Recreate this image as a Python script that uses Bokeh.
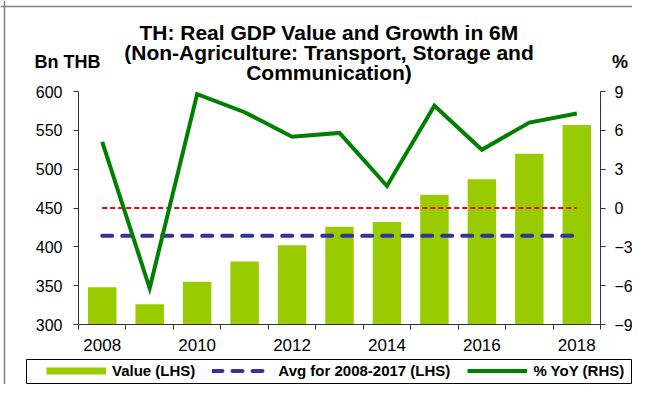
from bokeh.plotting import figure
from bokeh.models import (Range1d, LinearAxis, FixedTicker, Label, Legend, LegendItem,
                          BoxAnnotation, Span, ColumnDataSource)
from bokeh.embed import file_html
from bokeh.resources import INLINE

# ---- data ----
years = [2008, 2009, 2010, 2011, 2012, 2013, 2014, 2015, 2016, 2017, 2018]
values = [348, 326, 355, 381, 402, 426, 432, 467, 487, 520, 557]
yoy = [5.1, -6.2, 8.8, 7.4, 5.5, 5.8, 1.7, 7.9, 4.5, 6.6, 7.3]
avg_value = sum(values[:10]) / 10  # average for 2008-2017
zero_line = [0] * len(years)
left_ticks = [300, 350, 400, 450, 500, 550, 600]
right_ticks = [-9, -6, -3, 0, 3, 6, 9]
x_label_years = [2008, 2010, 2012, 2014, 2016, 2018]

title_lines = ["TH: Real GDP Value and Growth in 6M",
               "(Non-Agriculture: Transport, Storage and",
               "Communication)"]
legend_labels = ["Value (LHS)", "Avg for 2008-2017 (LHS)", "% YoY (RHS)"]

# ---- layout (pixels) ----
W, H = 632, 384
PL, PR, PT, PB = 78, 600, 91, 324   # plot-area edges on the canvas

FONT = "Liberation Sans"
BAR_C = "#99CC00"
LINE_C = "#008000"
AVG_C = "#333399"
ZERO_C = "#FF0000"
AX_C = "#333333"

x0, x1 = years[0] - 0.5, years[-1] + 0.5
ppx = (PR - PL) / (x1 - x0)
y0, y1 = left_ticks[0], left_ticks[-1]
ppy = (PB - PT) / (y1 - y0)
r0, r1 = right_ticks[0], right_ticks[-1]
ppr = (PB - PT) / (r1 - r0)

p = figure(width=W, height=H,
           x_range=Range1d(x0 - PL / ppx, x1 + (W - PR) / ppx),
           y_range=Range1d(y0 - (H - PB) / ppy, y1 + PT / ppy),
           x_axis_location=None, y_axis_location=None,
           output_backend="svg", toolbar_location=None,
           min_border_left=0, min_border_right=0,
           min_border_top=0, min_border_bottom=0)
p.extra_y_ranges = {"pct": Range1d(r0 - (H - PB) / ppr, r1 + PT / ppr)}
p.xgrid.visible = False
p.ygrid.visible = False
p.outline_line_color = None
p.background_fill_color = "white"
p.border_fill_color = "white"

src = ColumnDataSource(dict(x=years, v=values, g=yoy,
                            avg=[avg_value] * len(years), z=zero_line))

bars = p.vbar(x="x", top="v", bottom=y0, width=0.6, source=src,
              fill_color=BAR_C, line_color=None)
avg_r = p.line(x="x", y="avg", source=src, line_color=AVG_C, line_width=4,
               line_dash="10 10", line_cap="round")
zero_r = p.line(x="x", y="z", source=src, y_range_name="pct",
                line_color=ZERO_C, line_width=2, line_dash="5 3")
yoy_r = p.line(x="x", y="g", source=src, y_range_name="pct",
               line_color=LINE_C, line_width=4, line_join="miter")

# legend swatch for the bars (a single point: draws nothing in the plot itself)
proxy = p.line(x=years[:1], y=values[:1], line_color=BAR_C, line_width=7)

# ---- axes (fixed at the plot-area edges) ----
xax = LinearAxis(fixed_location=y0, bounds=(x0, x1),
                 ticker=FixedTicker(ticks=x_label_years,
                                    minor_ticks=[yv - 0.5 for yv in years] + [x1]))
xax.major_tick_line_color = None
xax.major_tick_out = 0
xax.major_tick_in = 0
xax.minor_tick_out = 5
xax.minor_tick_in = 0
xax.minor_tick_line_color = AX_C
xax.axis_line_color = AX_C
xax.major_label_text_font = FONT
xax.major_label_text_font_size = "17px"
xax.major_label_text_color = "black"
xax.major_label_standoff = 9
p.add_layout(xax, "below")

yax = LinearAxis(fixed_location=x0, bounds=(y0, y1), ticker=FixedTicker(ticks=left_ticks))
yax.minor_tick_line_color = None
yax.major_tick_out = 5
yax.major_tick_in = 0
yax.major_tick_line_color = AX_C
yax.axis_line_color = AX_C
yax.major_label_text_font = FONT
yax.major_label_text_font_size = "16px"
yax.major_label_text_color = "black"
yax.major_label_standoff = 11
p.add_layout(yax, "left")

rax = LinearAxis(y_range_name="pct", fixed_location=x1, bounds=(r0, r1),
                 ticker=FixedTicker(ticks=right_ticks))
rax.minor_tick_line_color = None
rax.major_tick_out = 5
rax.major_tick_in = 0
rax.major_tick_line_color = AX_C
rax.axis_line_color = AX_C
rax.major_label_text_font = FONT
rax.major_label_text_font_size = "16px"
rax.major_label_text_color = "black"
rax.major_label_standoff = 9
p.add_layout(rax, "right")

# ---- chart border ----
p.add_layout(Span(location=4, location_units="screen", dimension="height",
                  line_color="#808080", line_width=1.5))
p.add_layout(Span(location=H - 6, location_units="screen", dimension="width",
                  line_color="#808080", line_width=1.5))

# ---- titles ----
for txt, base in zip(title_lines, [31.5, 52, 71.5]):
    p.add_layout(Label(x=328.5, y=H - base, x_units="screen", y_units="screen", text=txt,
                       text_font=FONT, text_font_size="21px", text_font_style="bold",
                       text_align="center", text_baseline="alphabetic",
                       text_color="black"))
p.add_layout(Label(x=67, y=H - 61, x_units="screen", y_units="screen", text="Bn THB",
                   text_font=FONT, text_font_size="18px", text_font_style="bold",
                   text_align="center", text_baseline="alphabetic", text_color="black"))
p.add_layout(Label(x=619.5, y=H - 61.5, x_units="screen", y_units="screen", text="%",
                   text_font=FONT, text_font_size="18px", text_font_style="bold",
                   text_align="center", text_baseline="alphabetic", text_color="black"))

# ---- legend ----
box = BoxAnnotation(left=26, right=631, bottom=H - 383, top=H - 359,
                    left_units="screen", right_units="screen",
                    bottom_units="screen", top_units="screen",
                    fill_color="white", fill_alpha=1.0,
                    line_color="black", line_width=1, line_alpha=1.0)
p.add_layout(box)

legend = Legend(items=[LegendItem(label=legend_labels[0], renderers=[proxy]),
                       LegendItem(label=legend_labels[1], renderers=[avg_r]),
                       LegendItem(label=legend_labels[2], renderers=[yoy_r])],
                orientation="horizontal", location=(46, H - 378.5),
                glyph_width=60, glyph_height=15, label_height=15,
                label_standoff=6, spacing=17, padding=0, margin=0,
                label_text_font=FONT, label_text_font_size="15px",
                label_text_font_style="bold", label_text_color="black",
                border_line_color=None, background_fill_alpha=0.0)
p.add_layout(legend, "center")

open("out.html", "w").write(file_html(p, INLINE))
